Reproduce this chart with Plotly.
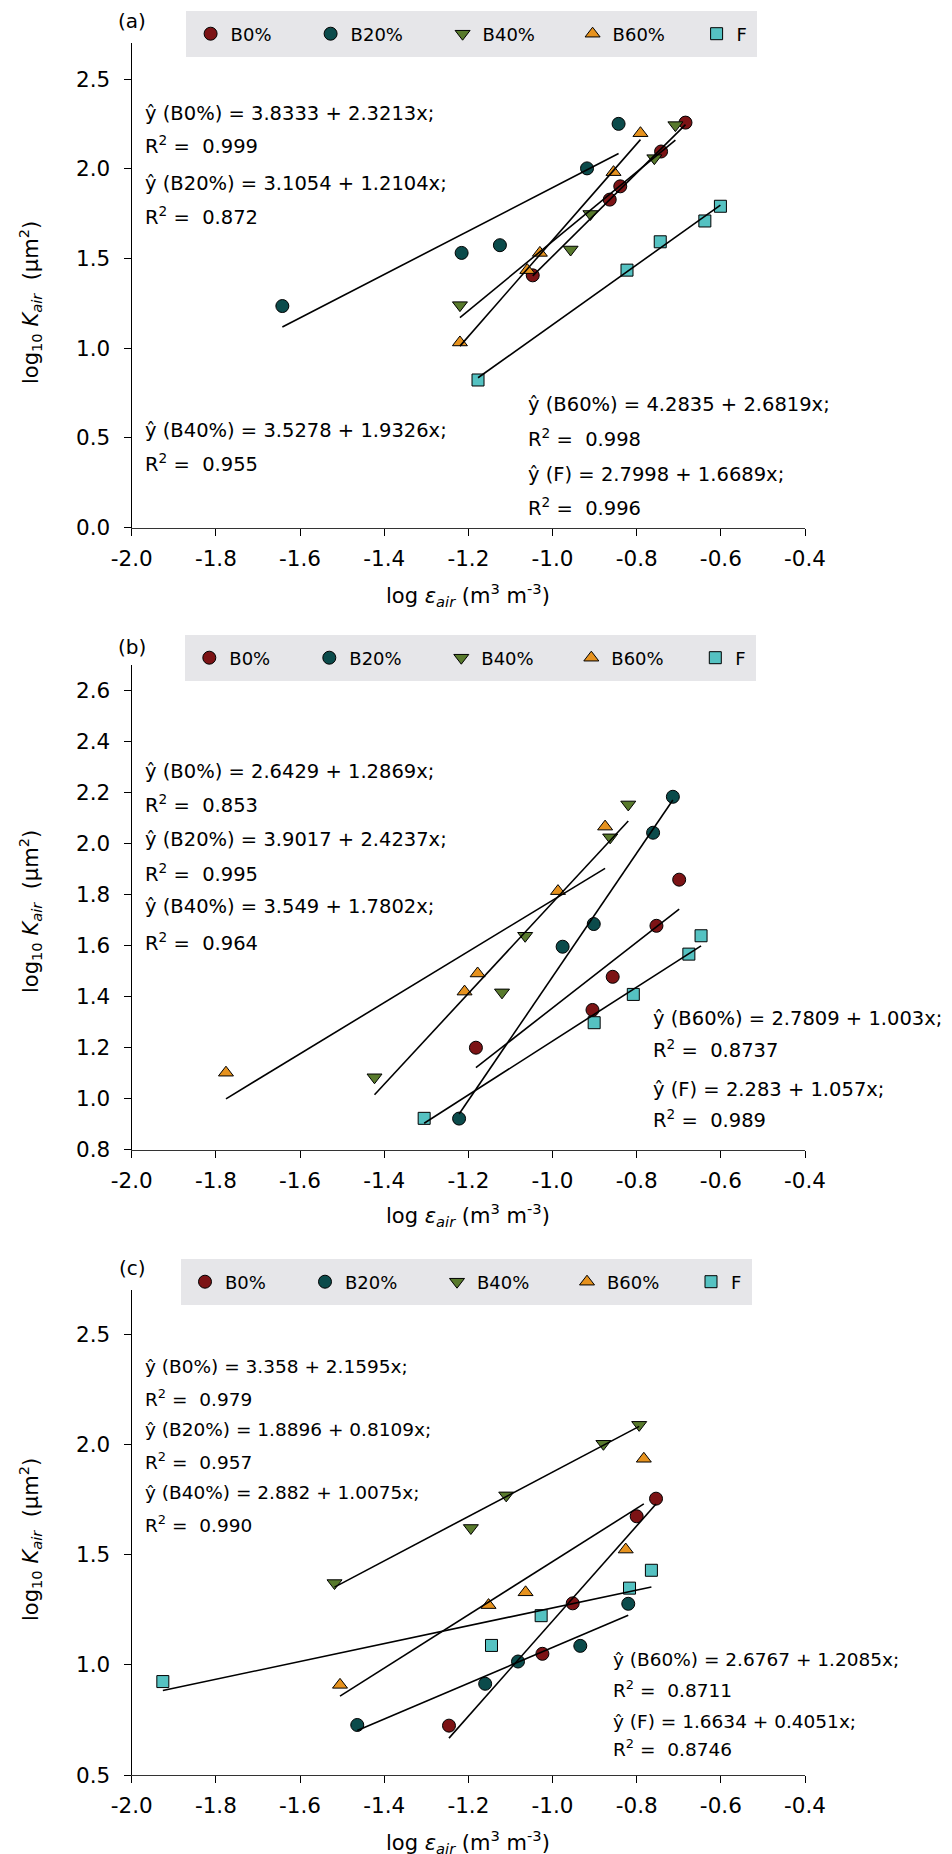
import plotly.graph_objects as go

# ---------------- data ----------------
SERIES = ["B0%", "B20%", "B40%", "B60%", "F"]

# Panel (a)
A_B0_X = [-1.047, -0.864, -0.839, -0.742, -0.684]
A_B0_Y = [1.406, 1.828, 1.902, 2.096, 2.257]
A_B20_X = [-1.642, -1.216, -1.125, -0.918, -0.843]
A_B20_Y = [1.235, 1.531, 1.574, 2.002, 2.250]
A_B40_X = [-1.220, -0.957, -0.910, -0.758, -0.708]
A_B40_Y = [1.240, 1.550, 1.748, 2.059, 2.243]
A_B60_X = [-1.220, -1.060, -1.030, -0.855, -0.791]
A_B60_Y = [1.032, 1.435, 1.531, 1.981, 2.198]
A_F_X = [-1.177, -0.823, -0.744, -0.638, -0.601]
A_F_Y = [0.823, 1.435, 1.593, 1.709, 1.791]
A_INTERCEPT = ["3.8333", "3.1054", "3.5278", "4.2835", "2.7998"]
A_SLOPE = ["2.3213", "1.2104", "1.9326", "2.6819", "1.6689"]
A_R2 = ["0.999", "0.872", "0.955", "0.998", "0.996"]

# Panel (b)
B_B0_X = [-1.182, -0.905, -0.857, -0.753, -0.699]
B_B0_Y = [1.200, 1.348, 1.478, 1.678, 1.859]
B_B20_X = [-1.222, -0.976, -0.902, -0.761, -0.714]
B_B20_Y = [0.922, 1.596, 1.685, 2.043, 2.184]
B_B40_X = [-1.423, -1.120, -1.065, -0.863, -0.820]
B_B40_Y = [1.084, 1.417, 1.639, 2.025, 2.154]
B_B60_X = [-1.776, -1.209, -1.178, -0.987, -0.875]
B_B60_Y = [1.102, 1.420, 1.491, 1.814, 2.067]
B_F_X = [-1.305, -0.901, -0.808, -0.676, -0.647]
B_F_Y = [0.923, 1.298, 1.409, 1.567, 1.639]
B_INTERCEPT = ["2.6429", "3.9017", "3.549", "2.7809", "2.283"]
B_SLOPE = ["1.2869", "2.4237", "1.7802", "1.003", "1.057"]
B_R2 = ["0.853", "0.995", "0.964", "0.8737", "0.989"]

# Panel (c)
C_B0_X = [-1.246, -1.024, -0.952, -0.800, -0.754]
C_B0_Y = [0.724, 1.050, 1.279, 1.674, 1.754]
C_B20_X = [-1.464, -1.160, -1.082, -0.934, -0.820]
C_B20_Y = [0.727, 0.914, 1.015, 1.086, 1.277]
C_B40_X = [-1.518, -1.194, -1.110, -0.879, -0.794]
C_B40_Y = [1.371, 1.621, 1.769, 2.003, 2.089]
C_B60_X = [-1.505, -1.152, -1.064, -0.826, -0.783]
C_B60_Y = [0.909, 1.271, 1.329, 1.523, 1.935]
C_F_X = [-1.926, -1.145, -1.027, -0.817, -0.765]
C_F_Y = [0.924, 1.088, 1.223, 1.348, 1.429]
C_INTERCEPT = ["3.358", "1.8896", "2.882", "2.6767", "1.6634"]
C_SLOPE = ["2.1595", "0.8109", "1.0075", "1.2085", "0.4051"]
C_R2 = ["0.979", "0.957", "0.990", "0.8711", "0.8746"]

X_TICKS = [-2.0, -1.8, -1.6, -1.4, -1.2, -1.0, -0.8, -0.6, -0.4]
X_TICK_TEXT = ["-2.0", "-1.8", "-1.6", "-1.4", "-1.2", "-1.0", "-0.8", "-0.6", "-0.4"]
A_Y_TICKS = [0.0, 0.5, 1.0, 1.5, 2.0, 2.5]
A_Y_TICK_TEXT = ["0.0", "0.5", "1.0", "1.5", "2.0", "2.5"]
B_Y_TICKS = [0.8, 1.0, 1.2, 1.4, 1.6, 1.8, 2.0, 2.2, 2.4, 2.6]
B_Y_TICK_TEXT = ["0.8", "1.0", "1.2", "1.4", "1.6", "1.8", "2.0", "2.2", "2.4", "2.6"]
C_Y_TICKS = [0.5, 1.0, 1.5, 2.0, 2.5]
C_Y_TICK_TEXT = ["0.5", "1.0", "1.5", "2.0", "2.5"]

PANEL_LETTERS = ["(a)", "(b)", "(c)"]

# ---------------- style ----------------
W, H = 952, 1854
OFF = 8  # page body margin offset
FONT = "DejaVu Sans"
COLORS = ["#7c1315", "#0b4b4b", "#587a2c", "#e6921e", "#55c2c2"]
SYMBOLS = ["circle", "circle", "triangle-down", "triangle-up", "square"]
SIZES = [13, 13, 13, 13, 12]
LEGEND_WIDTHS = [75, 87, 85, 79, 11]
LEGEND_BW = 4.5


def px_x(p):
    return (p - OFF) / W


def px_y(p):
    return 1 - (p - OFF) / H


XDOM = [px_x(131.7), px_x(805.0)]
PANELS = [
    dict(xs=[A_B0_X, A_B20_X, A_B40_X, A_B60_X, A_F_X], ys=[A_B0_Y, A_B20_Y, A_B40_Y, A_B60_Y, A_F_Y],
         icpt=A_INTERCEPT, slope=A_SLOPE, r2=A_R2, yr=[0.0, 2.7], yt=A_Y_TICKS, ytt=A_Y_TICK_TEXT,
         top=43.1, bottom=527.7, legend_box=(188.6, 11.0), ytitle=303, xtitle=595, letter=21.5,
         eq_font=19.5,
         eq_left=[(-1.973, [2.310, 2.132, 1.920, 1.736], [0, 1]), (-1.973, [0.544, 0.361], [2])],
         eq_right=(-1.064, [0.684, 0.500, 0.299, 0.115], [3, 4])),
    dict(xs=[B_B0_X, B_B20_X, B_B40_X, B_B60_X, B_F_X], ys=[B_B0_Y, B_B20_Y, B_B40_Y, B_B60_Y, B_F_Y],
         icpt=B_INTERCEPT, slope=B_SLOPE, r2=B_R2, yr=[0.8, 2.7], yt=B_Y_TICKS, ytt=B_Y_TICK_TEXT,
         top=665.2, bottom=1149.7, legend_box=(187.3, 635.0), ytitle=912, xtitle=1215, letter=647,
         eq_font=19.5,
         eq_left=[(-1.973, [2.285, 2.156, 2.015, 1.885, 1.752, 1.615], [0, 1, 2])],
         eq_right=(-0.767, [1.316, 1.195, 1.038, 0.920], [3, 4])),
    dict(xs=[C_B0_X, C_B20_X, C_B40_X, C_B60_X, C_F_X], ys=[C_B0_Y, C_B20_Y, C_B40_Y, C_B60_Y, C_F_Y],
         icpt=C_INTERCEPT, slope=C_SLOPE, r2=C_R2, yr=[0.5, 2.7], yt=C_Y_TICKS, ytt=C_Y_TICK_TEXT,
         top=1290.2, bottom=1775.0, legend_box=(183.0, 1259.0), ytitle=1540, xtitle=1842, letter=1268,
         eq_font=18.5,
         eq_left=[(-1.973, [2.352, 2.211, 2.066, 1.925, 1.780, 1.639], [0, 1, 2])],
         eq_right=(-0.862, [1.026, 0.890, 0.745, 0.623], [3, 4])),
]

fig = go.Figure()
annotations = []
layout = {}

for p, P in enumerate(PANELS):
    sfx = "" if p == 0 else str(p + 1)
    xa, ya = "x" + sfx, "y" + sfx
    leg = "legend" + sfx
    # markers
    for i, name in enumerate(SERIES):
        fig.add_trace(go.Scatter(
            x=P["xs"][i], y=P["ys"][i], mode="markers", name=name,
            xaxis=xa, yaxis=ya, legend=leg, legendwidth=LEGEND_WIDTHS[i],
            marker=dict(symbol=SYMBOLS[i], size=SIZES[i], color=COLORS[i],
                        line=dict(color="black", width=1)),
            cliponaxis=False,
        ))
    # regression lines from the equations
    for i, name in enumerate(SERIES):
        a, b = float(P["icpt"][i]), float(P["slope"][i])
        x0, x1 = min(P["xs"][i]), max(P["xs"][i])
        fig.add_trace(go.Scatter(
            x=[x0, x1], y=[a + b * x0, a + b * x1], mode="lines",
            line=dict(color="black", width=1.6), showlegend=False,
            xaxis=xa, yaxis=ya, hoverinfo="skip",
        ))

    ydom = [px_y(P["bottom"]), px_y(P["top"])]
    layout["xaxis" + sfx] = dict(
        domain=XDOM, anchor=ya, range=[-2.0, -0.4], tickvals=X_TICKS, ticktext=X_TICK_TEXT,
        showline=True, linecolor="#333333", linewidth=1.3, ticks="outside", ticklen=7,
        tickwidth=1.2, tickcolor="black", showgrid=False, zeroline=False,
        tickfont=dict(family=FONT, size=21.5, color="black"), ticklabelstandoff=4,
    )
    layout["yaxis" + sfx] = dict(
        domain=ydom, anchor=xa, range=P["yr"], tickvals=P["yt"], ticktext=P["ytt"],
        showline=True, linecolor="black", linewidth=1.2, ticks="outside", ticklen=7,
        tickwidth=1.2, tickcolor="black", showgrid=False, zeroline=False,
        tickfont=dict(family=FONT, size=21.5, color="black"), ticklabelstandoff=9,
    )
    lx, ly = P["legend_box"]
    layout[leg] = dict(
        orientation="h", x=px_x(lx - 2.5), y=px_y(ly), xanchor="left", yanchor="top",
        xref="paper", yref="paper", bgcolor="#e6e6e9", borderwidth=LEGEND_BW,
        bordercolor="#e6e6e9", font=dict(family=FONT, size=18, color="black"),
    )

    # equation annotations
    def eq_lines(idxs):
        out = []
        for i in idxs:
            out.append("ŷ (%s) = %s + %sx;" % (SERIES[i], P["icpt"][i], P["slope"][i]))
            out.append("R<sup>2</sup> = \u00a0%s" % P["r2"][i])
        return out

    blocks = list(P["eq_left"]) + [P["eq_right"]]
    for bx, bys, idxs in blocks:
        for txt, by in zip(eq_lines(idxs), bys):
            annotations.append(dict(
                x=bx, y=by, xref=xa, yref=ya, text=txt, showarrow=False,
                xanchor="left", yanchor="middle",
                font=dict(family=FONT, size=P["eq_font"], color="black"),
            ))

    # axis titles and panel letter
    annotations.append(dict(
        x=px_x(468), y=px_y(P["xtitle"]), xref="paper", yref="paper", showarrow=False,
        text="log <i>ε</i><sub><i>air</i></sub> (m<sup>3</sup> m<sup>-3</sup>)",
        xanchor="center", yanchor="middle", font=dict(family=FONT, size=21, color="black"),
    ))
    annotations.append(dict(
        x=px_x(30), y=px_y(P["ytitle"]), xref="paper", yref="paper", showarrow=False,
        text="log<sub>10</sub> <i>K</i><sub><i>air</i></sub> \u00a0(μm<sup>2</sup>)", textangle=-90,
        xanchor="center", yanchor="middle", font=dict(family=FONT, size=21, color="black"),
    ))
    annotations.append(dict(
        x=px_x(132), y=px_y(P["letter"]), xref="paper", yref="paper", showarrow=False,
        text=PANEL_LETTERS[p], xanchor="center", yanchor="middle",
        font=dict(family=FONT, size=20, color="black"),
    ))

fig.update_layout(
    width=W, height=H, margin=dict(l=0, r=0, t=0, b=0, autoexpand=False),
    paper_bgcolor="white", plot_bgcolor="white", annotations=annotations,
    **layout,
)

fig.write_html("out.html")
